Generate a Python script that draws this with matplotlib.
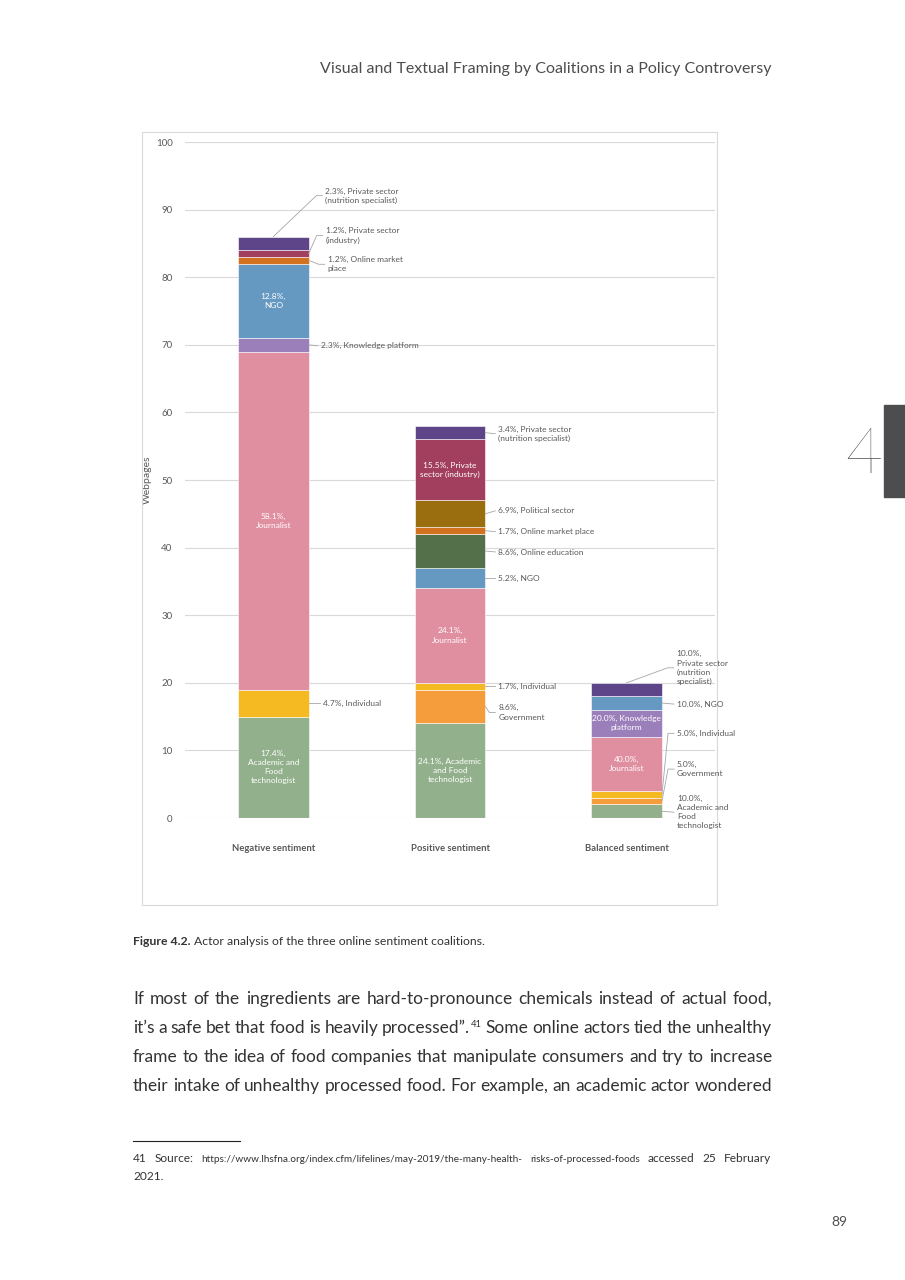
import matplotlib.pyplot as plt
from matplotlib.lines import Line2D
from matplotlib.patches import Rectangle

plt.rcParams['font.family'] = ['Lato', 'DejaVu Sans']

# ---- data ----
categories = ['Negative sentiment', 'Positive sentiment', 'Balanced sentiment']
actors = ['Academic and Food technologist', 'Government', 'Individual', 'Journalist',
          'Knowledge platform', 'NGO', 'Online education', 'Online market place',
          'Political sector', 'Private sector (industry)', 'Private sector (nutrition specialist)']
negative = [15, 0, 4, 50, 2, 11, 0, 1, 0, 1, 2]
positive = [14, 5, 1, 14, 0, 3, 5, 1, 4, 9, 2]
balanced = [2, 1, 1, 8, 4, 2, 0, 0, 0, 0, 2]
colors = ['#93B08C', '#F59D3D', '#F5BA22', '#E08FA1', '#9B7FBA', '#6699C2',
          '#53704A', '#D2711E', '#9A6E0E', '#A33F5E', '#5E4489']

# label layout: (bar, actor) -> (template, mode, dx, dy)   mode: 'in', 'out', 'top'
labels = {
    (0, 0): ('{p},\nAcademic and\nFood\ntechnologist', 'in', 0, 0),
    (0, 2): ('{p}, Individual', 'out', 14, 0),
    (0, 3): ('{p},\nJournalist', 'in', 0, 0),
    (0, 4): ('{p}, Knowledge platform', 'out', 12, 1),
    (0, 5): ('{p},\nNGO', 'in', 0, 0),
    (0, 7): ('{p}, Online market\nplace', 'out', 19, 4),
    (0, 9): ('{p}, Private sector\n(industry)', 'out', 17, -18),
    (0, 10): ('{p}, Private sector\n(nutrition specialist)', 'top', 52, -41),
    (1, 0): ('{p}, Academic\nand Food\ntechnologist', 'in', 0, 0),
    (1, 1): ('{p},\nGovernment', 'out', 13, 6),
    (1, 2): ('{p}, Individual', 'out', 13, 0),
    (1, 3): ('{p},\nJournalist', 'in', 0, 0),
    (1, 5): ('{p}, NGO', 'out', 13, 0),
    (1, 6): ('{p}, Online education', 'out', 13, 1),
    (1, 7): ('{p}, Online market place', 'out', 13, 1),
    (1, 8): ('{p}, Political sector', 'out', 13, -3),
    (1, 9): ('{p}, Private\nsector (industry)', 'in', 0, 0),
    (1, 10): ('{p}, Private sector\n(nutrition specialist)', 'out', 13, 1),
    (2, 0): ('{p},\nAcademic and\nFood\ntechnologist', 'out', 15, 1),
    (2, 1): ('{p},\nGovernment', 'out', 15, -32),
    (2, 2): ('{p}, Individual', 'out', 15, -61),
    (2, 3): ('{p},\nJournalist', 'in', 0, 0),
    (2, 4): ('{p}, Knowledge\nplatform', 'in', 0, 0),
    (2, 5): ('{p}, NGO', 'out', 15, 1),
    (2, 10): ('{p},\nPrivate sector\n(nutrition\nspecialist)', 'top', 50, -15),
}

W, H = 905, 1280
def fx(px):
    return px / W
def fy(py):
    return 1 - py / H

fig = plt.figure(figsize=(W / 100, H / 100), dpi=100)
grey = '#595959'

# chart frame
fig.patches.append(Rectangle((fx(142), fy(905)), (717 - 142) / W, (905 - 132) / H,
                             transform=fig.transFigure, fill=False, edgecolor='#D9D9D9', lw=0.8))

ax = fig.add_axes([fx(185), fy(818), 530 / W, 676 / H])
ax.set_xlim(-0.5, 2.5)
ax.set_ylim(0, 100)
for s in ax.spines.values():
    s.set_visible(False)
ax.set_yticks(range(0, 101, 10))
ax.yaxis.grid(True, color='#D9D9D9', lw=0.8)
ax.set_axisbelow(True)
ax.tick_params(axis='y', length=0, pad=9, labelsize=7, labelcolor=grey)
ax.set_xticks(range(3))
ax.set_xticklabels(categories, fontweight='bold')
ax.tick_params(axis='x', length=0, pad=19, labelsize=6.8, labelcolor=grey)
ax.set_ylabel('Webpages', fontsize=7.5, color=grey)
ax.yaxis.set_label_coords((152 - 185) / 530, 0.5)

series = [negative, positive, balanced]
bw = 0.4
for b, vals in enumerate(series):
    total = sum(vals)
    bottom = 0
    for a, v in enumerate(vals):
        if v == 0:
            continue
        ax.bar(b, v, bw, bottom=bottom, color=colors[a], edgecolor='white', linewidth=0.4)
        mid = bottom + v / 2
        if (b, a) in labels:
            tmpl, mode, dx, dy = labels[(b, a)]
            txt = tmpl.format(p=f'{v / total * 100:.1f}%')
            if mode == 'in':
                ax.text(b, mid, txt, ha='center', va='center', color='white',
                        fontsize=6, linespacing=1.35)
            else:
                if mode == 'top':
                    d = ax.transData.transform((b, total))
                else:
                    d = ax.transData.transform((b + bw / 2, mid))
                axp, ayp = d[0], H - d[1]
                tx, ty = axp + dx, ayp + dy
                if abs(dy) > 3:
                    xs = [axp, tx - 9, tx - 3]
                    ys = [ayp, ty, ty]
                else:
                    xs = [axp, tx - 3]
                    ys = [ayp, ty]
                fig.lines.append(Line2D([fx(p) for p in xs], [fy(p) for p in ys],
                                        transform=fig.transFigure, color='#A6A6A6', lw=0.6))
                fig.text(fx(tx), fy(ty), txt, ha='left', va='center', color=grey,
                         fontsize=6, linespacing=1.35)
        bottom += v

# ---- page text ----
renderer = fig.canvas.get_renderer()
txtc = '#333333'

def justify(words, x0, x1, y, size, color=txtc, sizes=None):
    # words may carry a superscript after '^'
    items = []
    for i, w in enumerate(words):
        s = sizes[i] if sizes else size
        base, _, sup = w.partition('^')
        t = fig.text(fx(x0), fy(y), base, fontsize=s, color=color, va='baseline')
        st = None
        if sup:
            st = fig.text(fx(x0), fy(y - s * 0.45), sup, fontsize=s * 0.55, color=color,
                          va='baseline')
        items.append((t, st))
    widths = []
    for t, st in items:
        wd = t.get_window_extent(renderer).width
        if st is not None:
            wd += st.get_window_extent(renderer).width + 1
        widths.append(wd)
    gap = (x1 - x0 - sum(widths)) / (len(items) - 1)
    x = x0
    for (t, st), wd in zip(items, widths):
        t.set_x(fx(x))
        if st is not None:
            st.set_x(fx(x + t.get_window_extent(renderer).width + 1))
        x += wd + gap

fig.text(fx(771), fy(73), 'Visual and Textual Framing by Coalitions in a Policy Controversy',
         ha='right', va='baseline', fontsize=11.5, color='#4D4D4D')

tab = Rectangle((fx(884), fy(497)), 21 / W, 92 / H, transform=fig.transFigure,
                color='#4D4D4F')
fig.patches.append(tab)
fig.text(fx(864), fy(456), '4', ha='center', va='center', fontsize=46,
         color='#4D4D4D', fontweight='light')

cap = fig.text(fx(133), fy(945), 'Figure 4.2.', fontweight='bold', fontsize=8.8,
               color=txtc, va='baseline')
cw = cap.get_window_extent(renderer).width
fig.text(fx(133 + cw + 3), fy(945), 'Actor analysis of the three online sentiment coalitions.',
         fontsize=8.8, color=txtc, va='baseline')

body = [
    'If most of the ingredients are hard-to-pronounce chemicals instead of actual food,',
    'it\u2019s a safe bet that food is heavily processed\u201d.^41 Some online actors tied the unhealthy',
    'frame to the idea of food companies that manipulate consumers and try to increase',
    'their intake of unhealthy processed food. For example, an academic actor wondered',
]
for i, line in enumerate(body):
    justify(line.split(' '), 133, 772, 1004 + i * 29, 12.5)

fig.lines.append(Line2D([fx(133), fx(240)], [fy(1141), fy(1141)], transform=fig.transFigure,
                        color='#222222', lw=0.8))
fn_words = ['41', 'Source:', 'https://www.lhsfna.org/index.cfm/lifelines/may-2019/the-many-health-',
            'risks-of-processed-foods', 'accessed', '25', 'February']
fn_sizes = [8.6, 8.6, 7.2, 7.2, 8.6, 8.6, 8.6]
justify(fn_words, 133, 771, 1162, 8.6, sizes=fn_sizes)
fig.text(fx(133), fy(1180), '2021.', fontsize=8.6, color=txtc, va='baseline')

fig.text(fx(847), fy(1226), '89', ha='right', va='baseline', fontsize=10, color='#4D4D4D')

fig.savefig('out.png', dpi=100)
